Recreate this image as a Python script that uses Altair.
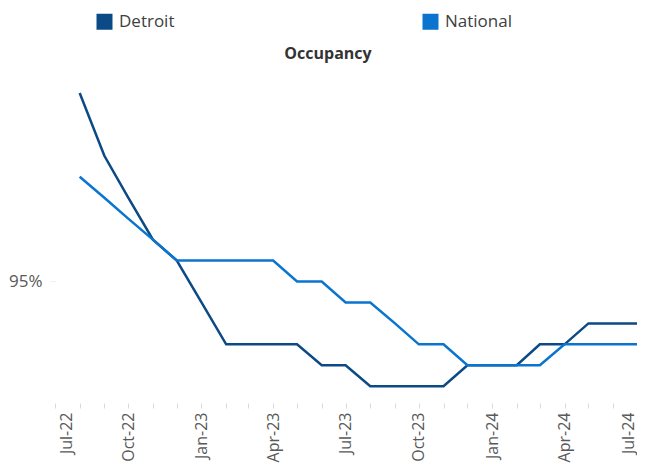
import altair as alt
import pandas as pd

months = ["2022-08-01", "2022-09-01", "2022-10-01", "2022-11-01", "2022-12-01",
          "2023-01-01", "2023-02-01", "2023-03-01", "2023-04-01", "2023-05-01",
          "2023-06-01", "2023-07-01", "2023-08-01", "2023-09-01", "2023-10-01",
          "2023-11-01", "2023-12-01", "2024-01-01", "2024-02-01", "2024-03-01",
          "2024-04-01", "2024-05-01", "2024-06-01", "2024-07-01"]
detroit = [95.9, 95.6, 95.4, 95.2, 95.1, 94.9, 94.7, 94.7, 94.7, 94.7, 94.6, 94.6,
           94.5, 94.5, 94.5, 94.5, 94.6, 94.6, 94.6, 94.7, 94.7, 94.8, 94.8, 94.8]
national = [95.5, 95.4, 95.3, 95.2, 95.1, 95.1, 95.1, 95.1, 95.1, 95.0, 95.0, 94.9,
            94.9, 94.8, 94.7, 94.7, 94.6, 94.6, 94.6, 94.6, 94.7, 94.7, 94.7, 94.7]
series = ["Detroit", "National"]
colors = ["#0B4A86", "#0A74CF"]

rows = []
for m, d, n in zip(months, detroit, national):
    rows.append({"month": m, "series": "Detroit", "value": d})
    rows.append({"month": m, "series": "National", "value": n})
df = pd.DataFrame(rows)

tick_months = [alt.DateTime(year=2022 + (6 + i) // 12, month=(6 + i) % 12 + 1, date=1, utc=True)
               for i in range(25)]

FONT = "Open Sans"

chart = alt.Chart(df).mark_line(strokeWidth=2.5).encode(
    x=alt.X("month:T",
            scale=alt.Scale(type="utc",
                            domain=[alt.DateTime(year=2022, month=7, date=1, utc=True),
                                    alt.DateTime(year=2024, month=7, date=1, utc=True)]),
            axis=alt.Axis(title=None, values=tick_months, grid=False, domain=False,
                          tickColor="#D9D9D9", tickSize=5, tickWidth=1,
                          labelAngle=-90, labelFont=FONT, labelFontSize=16,
                          labelColor="#595959", labelPadding=4, labelOverlap=False,
                          labelOffset={"condition": [
                              {"test": "datum.value < utc(2022, 7, 15)", "value": 11},
                              {"test": "datum.value > utc(2024, 5, 15)", "value": -9}],
                              "value": 0},
                          labelExpr="utcmonth(datum.value) % 3 == 0 ? utcFormat(datum.value, '%b-%y') : ''")),
    y=alt.Y("value:Q",
            scale=alt.Scale(domain=[94.42, 96.0], zero=False, nice=False),
            axis=alt.Axis(title=None, values=[95], grid=False, domain=False,
                          tickColor="#F0F0F0", tickSize=5, labelPadding=8,
                          labelFont=FONT, labelFontSize=17, labelColor="#595959",
                          labelExpr="format(datum.value, '.0f') + '%'")),
    color=alt.Color("series:N", scale=alt.Scale(domain=series, range=colors),
                    legend=alt.Legend(title=None, orient="none", legendX=41, legendY=-59,
                                      direction="horizontal", columns=2, columnPadding=235,
                                      symbolType="square", symbolSize=64,
                                      symbolStrokeWidth=8, labelFont=FONT, labelFontSize=17,
                                      labelColor="#404040", labelOffset=6, padding=0))
).properties(
    width=582,
    height=331,
    title=alt.TitleParams("Occupancy", font=FONT, fontSize=16, fontWeight="bold",
                          color="#333333", anchor="middle", offset=-49, dx=-18),
    autosize=alt.AutoSizeParams(type="none"),
    padding={"left": 47, "top": 64, "right": 0, "bottom": 60}
).configure_view(stroke=None)

chart.save("out.html", embed_options={"renderer": "svg", "actions": False})
